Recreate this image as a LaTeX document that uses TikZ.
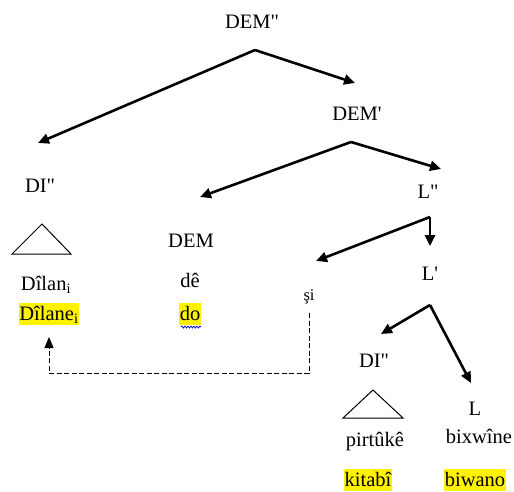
\documentclass[tikz,border=0pt]{standalone}
\usepackage{fontspec}
\setmainfont{Liberation Serif}
\usetikzlibrary{arrows.meta,decorations.pathmorphing}
\newcommand{\bbar}{\textquotedbl}
\newcommand{\sbar}{\textquotesingle}
\begin{document}
\begin{tikzpicture}[x=1pt,y=-1pt,
  lbl/.style={anchor=base,inner sep=0pt,font=\fontsize{20.5}{23}\selectfont},
  small/.style={anchor=base,inner sep=0pt,font=\fontsize{16.5}{18}\selectfont},
  hl/.style={lbl,fill=yellow,text height=17pt,text depth=4.5pt,inner xsep=0.5pt},
  branch/.style={line width=2.6pt,-{Triangle[length=11pt,width=10pt]}},
  tri/.style={line width=1pt,line join=miter},
  trace/.style={line width=1pt,dash pattern=on 5pt off 2.5pt,-{Triangle[length=11pt,width=9pt]}}]
\useasboundingbox (0,0) rectangle (514,491);

% labels of the tree
\node[lbl] (demPP) at (252,28) {DEM\bbar};
\node[lbl] (demP)  at (357,120) {DEM\sbar};
\node[lbl] (diTop) at (40,192) {DI\bbar};
\node[lbl] (lPP)   at (428,198) {L\bbar};
\node[lbl] (dem)   at (191,247) {DEM};
\node[lbl] (lP)    at (430,280) {L\sbar};
\node[lbl] (dilan) at (46,290) {Dîlan\textsubscript{i}};
\node[lbl] (de)    at (190,287) {dê};
\node[small] (si)  at (309,300) {şi};
\node[hl] (dilane) at (49,320) {Dîlane\textsubscript{i}};
\node[hl] (do)     at (190,320) {do};
\node[lbl] (diLow) at (374,367) {DI\bbar};
\node[lbl] (l)     at (475,415) {L};
\node[lbl] (pirtuke) at (375,446) {pirtûkê};
\node[lbl] (bixwine) at (479,443) {bixwîne};
\node[hl] (kitabi)   at (368,486) {kitabî};
\node[hl] (biwano)   at (475,486) {biwano};

% branching points and arrow ends
\coordinate (a1) at (255,50);
\coordinate (t1l) at (38,143);
\coordinate (t1r) at (355,83);
\coordinate (a2) at (351,142);
\coordinate (t2l) at (200,197);
\coordinate (t2r) at (441,169);
\coordinate (a3) at (430,217);
\coordinate (t3l) at (316,261);
\coordinate (t3d) at (430,246);
\coordinate (a4) at (430,305);
\coordinate (t4l) at (381,334);
\coordinate (t4r) at (471,383);

\draw[branch] (a1) -- (t1l);
\draw[branch] (a1) -- (t1r);
\draw[branch] (a2) -- (t2l);
\draw[branch] (a2) -- (t2r);
\draw[branch] (a3) -- (t3l);
\draw[branch] (a3) -- (t3d);
\draw[branch] (a4) -- (t4l);
\draw[branch] (a4) -- (t4r);

% triangles over the phrases
\draw[tri] (42,224) -- (12,254) -- (71,254) -- cycle;
\draw[tri] (373,390) -- (343,418) -- (403,418) -- cycle;

% trace line from the gap back to the antecedent
\coordinate (trStart) at (309,313);
\coordinate (trEnd) at (49,337);
\draw[trace] (trStart) -- (309,373) -- (49,373) -- (trEnd);

% wavy underline below "do"
\draw[blue!70!black,line width=0.7pt,decorate,decoration={snake,amplitude=1pt,segment length=3pt}]
  (181,327) -- (201,327);
\end{tikzpicture}
\end{document}
